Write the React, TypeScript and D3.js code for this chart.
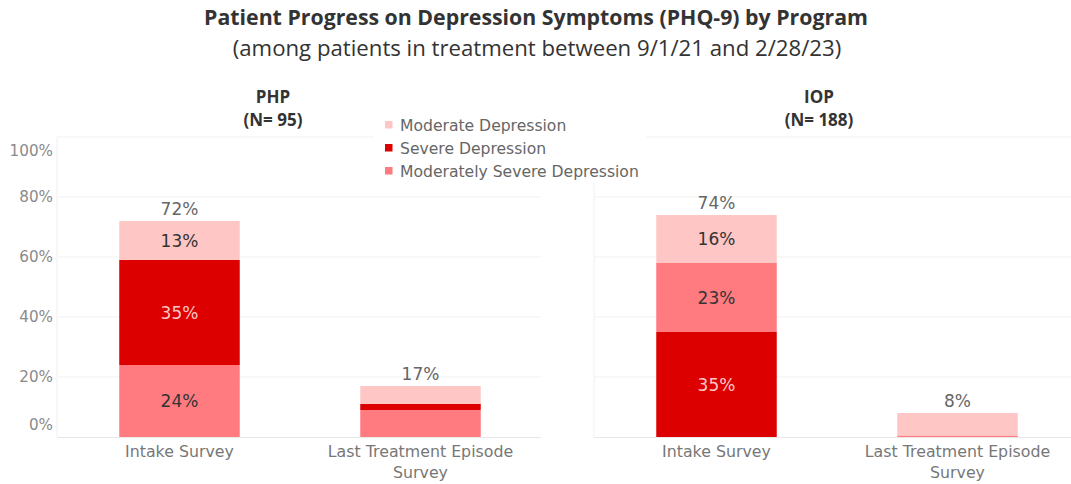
import React from "react";
import * as d3 from "d3";

const categories = ["Intake Survey", "Last Treatment Episode Survey"];
const categoryLines = [["Intake Survey"], ["Last Treatment Episode", "Survey"]];
const programs = ["PHP", "IOP"];
const programN = [95, 188];
// order: PHP-Intake, PHP-Last, IOP-Intake, IOP-Last
const moderateVals = [13, 6, 16, 7.5];
const severeVals = [35, 2, 35, 0];
const modSevereVals = [24, 9, 23, 0.5];
const totals = [72, 17, 74, 8];
const yTicks = [0, 20, 40, 60, 80, 100];
const seriesNames = ["Moderate Depression", "Severe Depression", "Moderately Severe Depression"];
const seriesColors = ["#FFC6C6", "#DC0000", "#FF7B80"];
// stacking order bottom->top, per program (series index)
const stackOrders = [[2, 1, 0], [1, 2, 0]];

const W = 1071, H = 484;
const TFONT = "'Open Sans', 'Noto Sans', sans-serif";
const FONT = "'DejaVu Sans', 'Noto Sans', sans-serif";

export default function App() {
  const y = d3.scaleLinear().domain([0, 100]).range([437, 137]);
  const panelRanges: [number, number][] = [[59, 541], [596, 1078]];
  const headerX = [273, 819];
  const vals = [moderateVals, severeVals, modSevereVals];

  return (
    <svg width={W} height={H} style={{ position: "absolute", left: 0, top: 0, background: "#fff" }} fontFamily={FONT}>
      <text x={536} y={25} textAnchor="middle" fontSize={21.3} fontWeight={700} fill="#333" fontFamily={TFONT}>
        Patient Progress on Depression Symptoms (PHQ-9) by Program
      </text>
      <text x={537} y={56} textAnchor="middle" fontSize={22.2} fill="#333" fontFamily={TFONT}>
        (among patients in treatment between 9/1/21 and 2/28/23)
      </text>

      {/* y axis labels */}
      {yTicks.map((t) => {
        let yy = y(t) + 5;
        if (t === 100) yy = y(t) + 19;
        if (t === 0) yy = y(t) - 7;
        return (
          <text key={t} x={53} y={yy} textAnchor="end" fontSize={15.2} fill="#8a8a8a">
            {t}%
          </text>
        );
      })}

      {programs.map((p, pi) => {
        const [x0, x1] = panelRanges[pi];
        const x = d3.scaleBand().domain(categories).range([x0, x1]).paddingInner(0.5).paddingOuter(0.25);
        return (
          <g key={p}>
            {/* gridlines */}
            {yTicks.filter((t) => t > 0).map((t) => (
              <line key={t} x1={x0 - 2} x2={x1} y1={y(t)} y2={y(t)} stroke="#f1f1f1" strokeWidth={1} />
            ))}
            <line x1={x0 - 2} x2={x0 - 2} y1={y(100)} y2={y(0)} stroke="#f1f1f1" />
            <line x1={x0 - 2} x2={x1} y1={y(0) + 0.5} y2={y(0) + 0.5} stroke="#e8e8e8" />
            <text x={headerX[pi]} y={103} textAnchor="middle" fontSize={17} fontWeight={700} fill="#333" fontFamily={TFONT}>
              {p}
            </text>
            <text x={headerX[pi]} y={126} textAnchor="middle" fontSize={17} fontWeight={700} fill="#333" fontFamily={TFONT}>
              (N= {programN[pi]})
            </text>
            {categories.map((c, ci) => {
              const idx = pi * 2 + ci;
              const bx = x(c)!;
              const bw = x.bandwidth();
              let cum = 0;
              const segs = stackOrders[pi].map((si) => {
                const v = vals[si][idx];
                const s = { si, v, y0: cum, y1: cum + v };
                cum += v;
                return s;
              });
              return (
                <g key={c}>
                  {segs.map((s) => (
                    <rect key={s.si} x={bx} width={bw} y={y(s.y1)} height={y(s.y0) - y(s.y1)} fill={seriesColors[s.si]} />
                  ))}
                  {segs.filter((s) => s.v >= 10).map((s) => (
                    <text key={"l" + s.si} x={bx + bw / 2} y={(y(s.y0) + y(s.y1)) / 2 + 6} textAnchor="middle" fontSize={17}
                      fill={s.si === 1 ? "#FFC6C6" : "#333"}>
                      {s.v}%
                    </text>
                  ))}
                  <text x={bx + bw / 2} y={y(cum) - 6} textAnchor="middle" fontSize={17} fill="#666">
                    {totals[idx]}%
                  </text>
                  {categoryLines[ci].map((line, li) => (
                    <text key={li} x={bx + bw / 2} y={457 + li * 21} textAnchor="middle" fontSize={15.8} fill="#777">
                      {line}
                    </text>
                  ))}
                </g>
              );
            })}
          </g>
        );
      })}

      {/* legend */}
      <rect x={374} y={111} width={272} height={72} fill="#fff" />
      {seriesNames.map((n, i) => (
        <g key={n}>
          <rect x={385} y={121 + i * 23} width={7.5} height={7.5} fill={seriesColors[i]} />
          <text x={400} y={130.5 + i * 23} fontSize={15.6} fill="#666">
            {n}
          </text>
        </g>
      ))}
    </svg>
  );
}
